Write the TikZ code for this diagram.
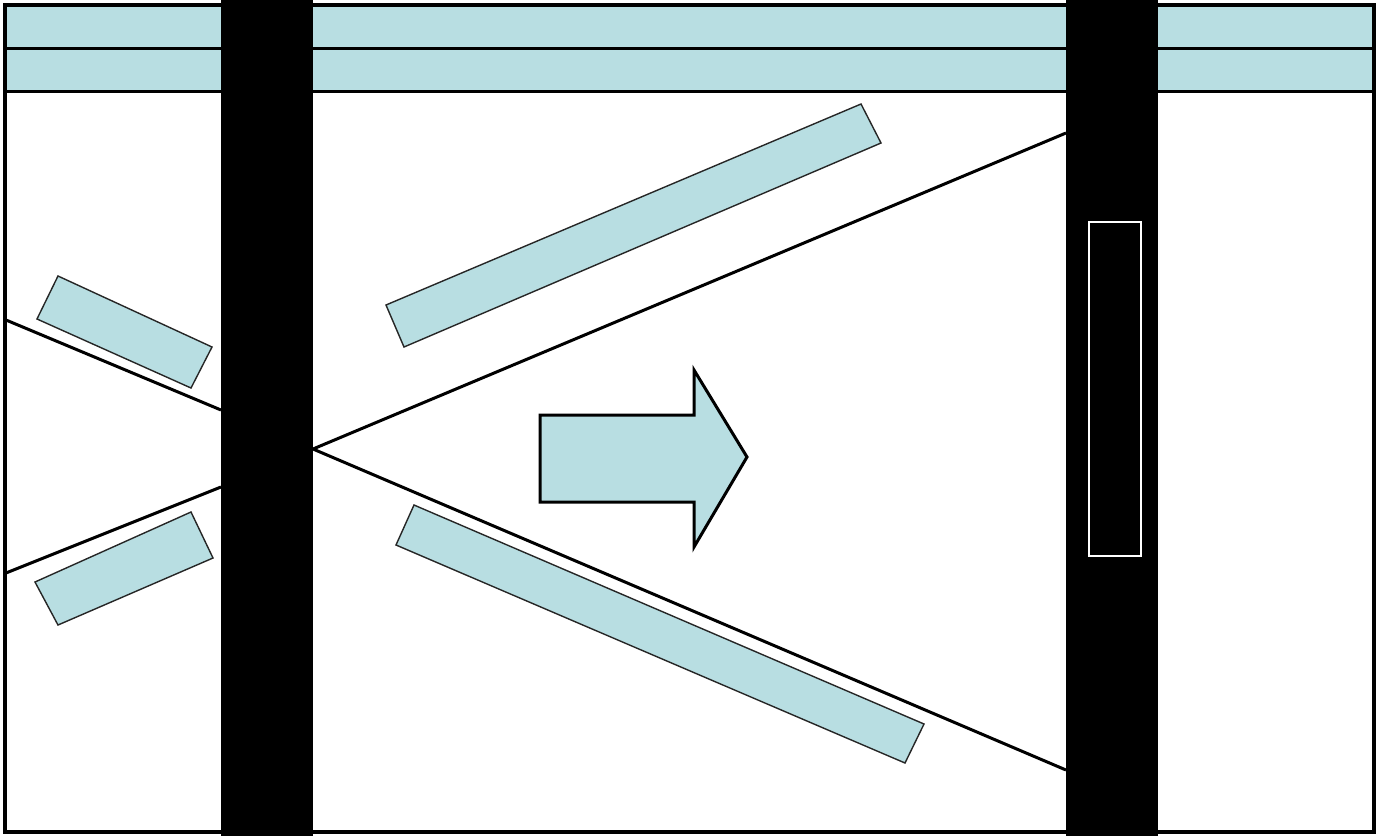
\documentclass[tikz,border=0pt]{standalone}
\usepackage{tikz}
\usepackage{xcolor}

\definecolor{glass}{RGB}{184,222,226}

\begin{document}
\begin{tikzpicture}[x=1pt,y=-1pt,
  pane/.style={fill=glass,draw=black!85,line width=1.4pt},
  beam/.style={black,line width=3pt}]
  \useasboundingbox (0,0) rectangle (1380,836);
  \fill[white] (0,0) rectangle (1380,836);

  % top bands
  \fill[glass] (6,7) rectangle (1373,91);
  \foreach \h in {48.5,91.5} {
    \draw[beam] (6,\h) -- (1373,\h);
  }

  % rays
  \coordinate (apex) at (313,449);
  \coordinate (raytop) at (1066,133);
  \coordinate (raybot) at (1066,770);
  \coordinate (lefttopA) at (6,320);
  \coordinate (lefttopB) at (221,410);
  \coordinate (leftbotA) at (6,573);
  \coordinate (leftbotB) at (221,487);
  \draw[beam] (apex) -- (raytop);
  \draw[beam] (apex) -- (raybot);
  \draw[beam] (lefttopA) -- (lefttopB);
  \draw[beam] (leftbotA) -- (leftbotB);

  % tilted panes
  \draw[pane] (386,305) -- (861,104) -- (881,143) -- (404,347) -- cycle;
  \draw[pane] (396,545) -- (414,505) -- (924,724) -- (905,763) -- cycle;
  \draw[pane] (37,319) -- (58,276) -- (212,347) -- (191,388) -- cycle;
  \draw[pane] (35,582) -- (191,512) -- (213,558) -- (58,625) -- cycle;

  % columns
  \foreach \x in {221,1066} {
    \fill[black] (\x,0) rectangle (\x+92,836);
  }
  \draw[white,line width=1.2pt] (1089,222) rectangle (1141,556);

  % arrow
  \draw[pane,draw=black,line width=3pt] (540,415) -- (694,415) -- (694,370)
    -- (747,457) -- (694,547) -- (694,502) -- (540,502) -- cycle;

  % frame
  \draw[line width=4.5pt] (5,5) rectangle (1374,832);
\end{tikzpicture}
\end{document}
